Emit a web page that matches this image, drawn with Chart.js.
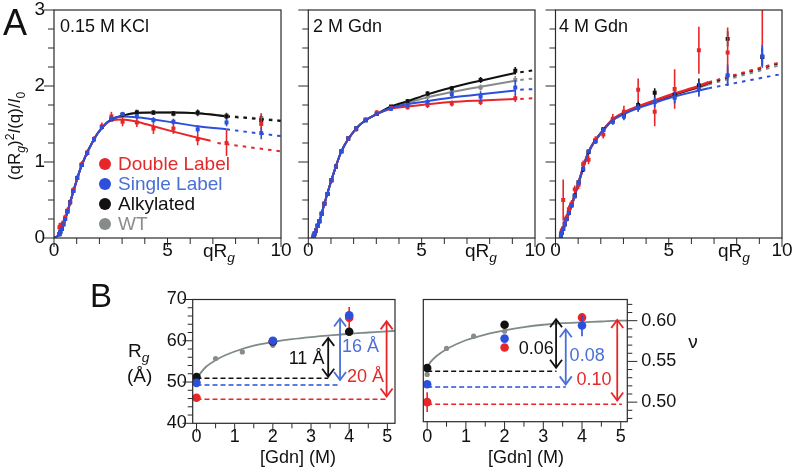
<!DOCTYPE html>
<html><head><meta charset="utf-8">
<script src="https://cdn.jsdelivr.net/npm/chart.js@4/dist/chart.umd.min.js"></script>
<style>
html,body{margin:0;padding:0;background:#fff;}
#wrap{position:relative;width:793px;height:471px;overflow:hidden;background:#fff;}
#wrap canvas{position:absolute;left:0;top:0;}
</style></head><body>
<div id="wrap">
<canvas id="cA1" width="793" height="471"></canvas>
<canvas id="cA2" width="793" height="471"></canvas>
<canvas id="cA3" width="793" height="471"></canvas>
<canvas id="cB1" width="793" height="471"></canvas>
<canvas id="cB2" width="793" height="471"></canvas>
</div>
<script>
// ---------- DATA ----------
const qPoints = [0.24,0.28,0.34,0.41,0.49,0.59,0.71,0.85,1.02,1.22,1.46,1.76,2.11,2.53,3.02,3.65,4.38,5.26,6.33,7.6,9.13];
const topXTicks = [0,5,10];
const topYTicks = [0,1,2,3];

// Panel: 0.15 M KCl
const kclBlue  = [0.05,0.08,0.12,0.18,0.25,0.35,0.47,0.62,0.79,0.96,1.12,1.30,1.46,1.57,1.63,1.60,1.55,1.53,1.43,1.52,1.38];
const kclBlack = [0.05,0.08,0.12,0.18,0.25,0.35,0.47,0.62,0.79,0.96,1.12,1.30,1.46,1.56,1.62,1.65,1.65,1.64,1.65,1.60,1.55];
const kclGray  = [0.05,0.08,0.12,0.18,0.25,0.35,0.47,0.62,0.79,0.96,1.12,1.30,1.46,1.56,1.62,1.66,1.65,1.63,1.64,1.61,1.58];
const kclRed   = [0.14,0.15,0.16,0.20,0.27,0.36,0.47,0.63,0.79,0.97,1.12,1.30,1.47,1.60,1.53,1.52,1.44,1.44,1.30,1.25,1.50];
const kclRedErr   = [0.06,0.05,0.05,0.04,0.04,0.04,0.04,0.04,0.04,0.04,0.04,0.04,0.05,0.06,0.06,0.06,0.07,0.07,0.08,0.17,0.14];
const kclBlueErr  = [0.03,0.03,0.02,0.02,0.02,0.02,0.02,0.02,0.02,0.02,0.02,0.02,0.02,0.03,0.03,0.03,0.04,0.04,0.05,0.05,0.08];
const kclBlackErr = [0.02,0.02,0.02,0.02,0.02,0.02,0.02,0.02,0.02,0.02,0.02,0.02,0.02,0.02,0.03,0.03,0.03,0.03,0.04,0.04,0.06];
const kclFitQ     = [0,0.24,0.41,0.59,0.85,1.22,1.76,2.11,2.53,3.02,3.65,4.38,5.26,6.33,7.6];
const kclFitBlue  = [0,0.05,0.17,0.34,0.61,0.96,1.30,1.45,1.56,1.60,1.59,1.56,1.52,1.47,1.43];
const kclFitBlack = [0,0.05,0.17,0.34,0.61,0.96,1.30,1.45,1.56,1.61,1.645,1.65,1.65,1.64,1.60];
const kclFitGray  = [0,0.05,0.17,0.34,0.61,0.96,1.30,1.45,1.56,1.61,1.645,1.65,1.65,1.64,1.605];
const kclRedFitQ  = [0,0.24,0.41,0.59,0.85,1.22,1.76,2.11,2.53,3.02,3.65,4.38,5.26,6.33,6.9];
const kclFitRed   = [0,0.05,0.17,0.34,0.61,0.96,1.30,1.45,1.55,1.56,1.53,1.47,1.40,1.32,1.28];
const kclDotQ     = [7.6,10];
const kclDotBlack = [1.60,1.54];
const kclDotGray  = [1.61,1.55];
const kclDotBlue  = [1.43,1.34];
const kclRedDotQ  = [7.2,10];
const kclDotRed   = [1.25,1.14];

// Panel: 2 M Gdn
const gdn2Blue  = [0.03,0.06,0.10,0.16,0.22,0.32,0.45,0.58,0.76,0.94,1.14,1.31,1.44,1.55,1.63,1.70,1.75,1.79,1.89,1.86,1.98];
const gdn2Black = [0.03,0.06,0.10,0.16,0.22,0.32,0.45,0.58,0.76,0.94,1.14,1.31,1.44,1.55,1.63,1.73,1.80,1.90,1.97,2.08,2.20];
const gdn2Gray  = [0.03,0.06,0.10,0.16,0.22,0.32,0.45,0.58,0.76,0.94,1.14,1.31,1.44,1.55,1.63,1.72,1.78,1.86,1.93,1.98,2.08];
const gdn2Red   = [0.01,0.05,0.10,0.16,0.22,0.32,0.45,0.58,0.76,0.94,1.14,1.31,1.43,1.56,1.65,1.71,1.72,1.75,1.77,1.79,1.84];
const gdn2RedErr   = [0.03,0.03,0.03,0.03,0.03,0.03,0.03,0.03,0.03,0.03,0.03,0.03,0.03,0.03,0.03,0.03,0.03,0.04,0.04,0.04,0.05];
const gdn2BlueErr  = [0.02,0.02,0.02,0.02,0.02,0.02,0.02,0.02,0.02,0.02,0.02,0.02,0.02,0.02,0.02,0.03,0.03,0.04,0.05,0.07,0.10];
const gdn2BlackErr = [0.02,0.02,0.02,0.02,0.02,0.02,0.02,0.02,0.02,0.02,0.02,0.02,0.02,0.02,0.02,0.02,0.03,0.03,0.03,0.04,0.05];
const gdn2FitQ     = [0.15,0.34,0.49,0.71,1.02,1.46,2.11,2.53,3.02,3.65,4.38,5.26,6.33,7.6,9.13];
const gdn2FitBlue  = [0,0.10,0.22,0.45,0.76,1.14,1.44,1.55,1.63,1.71,1.76,1.80,1.85,1.89,1.94];
const gdn2FitBlack = [0,0.10,0.22,0.45,0.76,1.14,1.44,1.55,1.63,1.73,1.80,1.89,1.98,2.07,2.17];
const gdn2FitGray  = [0,0.10,0.22,0.45,0.76,1.14,1.44,1.55,1.63,1.72,1.78,1.85,1.92,1.99,2.07];
const gdn2FitRed   = [0,0.10,0.22,0.45,0.76,1.14,1.44,1.55,1.63,1.70,1.73,1.76,1.79,1.81,1.83];
const gdn2DotQ     = [9.35,10];
const gdn2DotBlack = [2.18,2.21];
const gdn2DotGray  = [2.08,2.10];
const gdn2DotBlue  = [1.95,1.96];
const gdn2DotRed   = [1.83,1.84];

// Panel: 4 M Gdn
const gdn4Blue  = [0.03,0.07,0.12,0.18,0.25,0.33,0.43,0.55,0.73,0.91,1.14,1.27,1.42,1.53,1.60,1.71,1.79,1.85,1.96,2.14,2.39];
const gdn4Black = [0.03,0.07,0.12,0.18,0.25,0.33,0.43,0.56,0.73,0.90,1.13,1.28,1.43,1.55,1.62,1.75,1.91,1.89,2.01,2.62,2.38];
const gdn4Gray  = [0.03,0.07,0.12,0.18,0.25,0.33,0.43,0.55,0.73,0.91,1.14,1.27,1.42,1.53,1.60,1.71,1.79,1.85,1.96,2.14,2.39];
const gdn4Red   = [0.06,0.10,0.50,0.20,0.27,0.38,0.45,0.64,0.70,0.97,1.03,1.29,1.36,1.57,1.66,1.95,1.66,1.96,2.47,2.44,3.05];
const gdn4RedErr   = [0.05,0.05,0.27,0.06,0.05,0.05,0.05,0.05,0.06,0.05,0.06,0.05,0.05,0.06,0.08,0.15,0.19,0.26,0.31,0.33,0.55];
const gdn4BlueErr  = [0.03,0.03,0.03,0.03,0.03,0.03,0.03,0.03,0.03,0.03,0.03,0.03,0.04,0.04,0.05,0.05,0.07,0.08,0.10,0.14,0.15];
const gdn4BlackErr = [0.03,0.03,0.03,0.03,0.03,0.03,0.03,0.03,0.03,0.03,0.03,0.03,0.03,0.04,0.04,0.05,0.06,0.07,0.09,0.10,0.12];
const gdn4FitQ     = [0.2,0.34,0.49,0.71,1.02,1.46,2.11,2.53,3.02,3.65,4.38,5.26,6.33,6.76];
const gdn4FitBlue  = [0,0.12,0.25,0.43,0.73,1.13,1.42,1.55,1.63,1.71,1.78,1.86,1.94,1.97];
const gdn4FitRed   = [0,0.12,0.25,0.43,0.73,1.13,1.42,1.56,1.65,1.73,1.81,1.90,2.00,2.05];
const gdn4FitBlack = [0,0.12,0.25,0.43,0.73,1.13,1.42,1.56,1.64,1.73,1.80,1.89,1.99,2.04];
const gdn4FitGray  = [0,0.12,0.25,0.43,0.73,1.13,1.42,1.55,1.64,1.72,1.79,1.88,1.98,2.02];
const gdn4DotQ     = [6.76,10];
const gdn4DotRed   = [2.05,2.32];
const gdn4DotBlack = [2.04,2.31];
const gdn4DotGray  = [2.02,2.28];
const gdn4DotBlue  = [1.97,2.16];

// Panel B: Rg and nu vs [Gdn]
const gdnX = [0,2,4];
const bXTicks = [0,1,2,3,4,5];
const rgYTicks = [40,50,60,70];
const nuYTicks = [0.50,0.55,0.60];
const rgRed = [46.2,59.7,65.6];   const rgRedErr = [0.5,0.5,2.6];
const rgBlue = [49.8,60.0,66.2];  const rgBlueErr = [0.4,0.5,0.9];
const rgBlack = [51.2,59.9,62.2];
const rgGrayX = [0,0.5,1.2,2];    const rgGray = [50.5,55.7,57.3,58.9];
const rgFitX = [0,0.1,0.25,0.5,0.75,1,1.5,2,2.5,3,3.5,4,4.5,5,5.2];
const rgFit  = [50.6,52.1,53.7,55.3,56.5,57.4,58.8,59.7,60.4,60.9,61.3,61.7,62.0,62.3,62.4];
const rgBaseEnd = [4.97,3.76,3.45];      // red, blue, black
const rgBase    = [45.8,49.3,50.9];
const rgArrowX  = [4.98,3.76,3.45];
const rgArrowLo = [46.5,50.5,51.3];
const rgArrowHi = [64.7,65.4,60.7];
const rgDeltaLabels = ['20 Å','16 Å','11 Å'];

const nuRed = [0.500,0.567,0.604];   const nuRedErr = [0.012,0.002,0.003];
const nuBlue = [0.522,0.578,0.594];  const nuBlueErr = [0.002,0.002,0.013];
const nuBlack = [0.542,0.595,null];
const nuGrayX = [0,0.5,1.2,2];       const nuGray = [0.534,0.566,0.581,0.587];
const nuFitX = [0,0.1,0.25,0.5,0.75,1,1.5,2,2.5,3,3.5,4,4.5,5,5.17];
const nuFit  = [0.543,0.550,0.557,0.565,0.571,0.576,0.583,0.588,0.592,0.595,0.597,0.598,0.599,0.600,0.600];
const nuBaseEnd = [5.03,3.58,3.34];
const nuBase    = [0.4975,0.5185,0.538];
const nuArrowX  = [4.91,3.58,3.33];
const nuArrowLo = [0.502,0.5218,0.5423];
const nuArrowHi = [0.6009,0.5894,0.6017];
const nuDeltaLabels = ['0.10','0.08','0.06'];

const legendLabels = ['Double Label','Single Label','Alkylated','WT'];

// ---------- STYLE ----------
const FONT = '"Liberation Sans", Arial, Helvetica, sans-serif';
const RED='#e8262a', BLUE='#2c4fdc', BLACK='#111111', GRAY='#878b8b';
const BLUE_T='#4a6fd8', RED_T='#e32a2a', GRAY_T='#8a8e8e', FITGRAY='#7f8b87';
const W=793, H=471, XH=40;

function pts(xs, ys){ return xs.map((x,i)=>({x:x, y:ys[i]})); }
function ptsDs(xs, ys, errs, color, r, style, order, errColor){
  return {data:pts(xs,ys), errs:errs||null, errColor:errColor||color, backgroundColor:color, borderColor:color,
    pointRadius:r, pointStyle:style, pointBorderWidth:0, showLine:false, order:order};
}
function lineDs(xs, ys, color, width, dash, order, tension){
  return {data:pts(xs,ys), borderColor:color, backgroundColor:color, borderWidth:width, borderDash:dash||[],
    pointRadius:0, showLine:true, tension:(tension===undefined?0.4:tension), cubicInterpolationMode:'monotone', order:order, fill:false};
}

function drawRich(ctx, it, px, py){
  const size = it.size;
  const segs = it.parts.map(p=>{
    const s = (p.sub||p.sup) ? size*0.72 : size;
    const font = (p.it?'italic ':'') + s + 'px ' + FONT;
    ctx.font = font;
    return {p:p, font:font, w:ctx.measureText(p.t).width};
  });
  const total = segs.reduce((a,b)=>a+b.w,0);
  ctx.save();
  ctx.translate(px,py);
  if (it.rot) ctx.rotate(it.rot);
  let x0 = it.align==='center' ? -total/2 : (it.align==='right' ? -total : 0);
  ctx.textAlign='left';
  ctx.textBaseline = it.baseline || 'alphabetic';
  ctx.fillStyle = it.color || '#111';
  for (const g of segs){
    ctx.font = g.font;
    const dy = g.p.sub ? size*0.27 : (g.p.sup ? -size*0.38 : 0);
    ctx.fillText(g.p.t, x0, dy);
    x0 += g.w;
  }
  ctx.restore();
}

function tickList(c){
  const out=[]; const n=Math.round((c.to-c.from)/c.step);
  for(let i=0;i<=n;i++){ const v=c.from+i*c.step; const r=v/c.major; out.push({v:v, major:Math.abs(r-Math.round(r))<1e-6}); }
  return out;
}

const decoPlugin = {
  id:'deco',
  beforeDatasetDraw(chart, args){
    const ds = chart.data.datasets[args.index];
    if (!ds.errs) return;
    const ctx=chart.ctx, xs=chart.scales.x, ys=chart.scales.y, ca=chart.chartArea;
    ctx.save();
    ctx.beginPath(); ctx.rect(ca.left, ca.top, ca.right-ca.left, ca.bottom-ca.top); ctx.clip();
    ctx.strokeStyle = ds.errColor; ctx.lineWidth = 1.6;
    ds.data.forEach((p,i)=>{
      const e = ds.errs[i]; if (p.y==null || !e) return;
      const x = xs.getPixelForValue(p.x);
      ctx.beginPath(); ctx.moveTo(x, ys.getPixelForValue(p.y-e)); ctx.lineTo(x, ys.getPixelForValue(p.y+e)); ctx.stroke();
    });
    ctx.restore();
  },
  afterDraw(chart, args, o){
    const ctx=chart.ctx, ca=chart.chartArea, xs=chart.scales.x, ys=chart.scales.y;
    ctx.save();
    ctx.strokeStyle='#2a2a2a'; ctx.lineWidth=1.2;
    ctx.strokeRect(ca.left, ca.top, ca.right-ca.left, ca.bottom-ca.top);
    ctx.lineWidth=1; ctx.strokeStyle='#2a2a2a';
    if (o.tx){ for (const t of tickList(o.tx)){ const x=xs.getPixelForValue(t.v); const L=t.major?o.tx.majLen:o.tx.minLen;
      ctx.beginPath(); ctx.moveTo(x, ca.bottom); ctx.lineTo(x, ca.bottom+L); ctx.stroke(); } }
    if (o.ty){ for (const t of tickList(o.ty)){ const y=ys.getPixelForValue(t.v); const L=t.major?o.ty.majLen:o.ty.minLen;
      ctx.beginPath();
      if (o.ty.side==='right'){ ctx.moveTo(ca.right, y); ctx.lineTo(ca.right+L, y); }
      else { ctx.moveTo(ca.left, y); ctx.lineTo(ca.left-L, y); }
      ctx.stroke(); } }
    (o.arrows||[]).forEach(a=>{
      const x=xs.getPixelForValue(a.x), y1=ys.getPixelForValue(a.lo), y2=ys.getPixelForValue(a.hi);
      ctx.strokeStyle=a.color; ctx.lineWidth=1.8;
      ctx.beginPath(); ctx.moveTo(x,y1); ctx.lineTo(x,y2); ctx.stroke();
      const hw=6, hl=8;
      ctx.beginPath(); ctx.moveTo(x-hw, y2+hl); ctx.lineTo(x, y2); ctx.lineTo(x+hw, y2+hl); ctx.stroke();
      ctx.beginPath(); ctx.moveTo(x-hw, y1-hl); ctx.lineTo(x, y1); ctx.lineTo(x+hw, y1-hl); ctx.stroke();
    });
    (o.legend||[]).forEach(l=>{
      ctx.fillStyle=l.dot; ctx.beginPath(); ctx.arc(l.x, l.y, 6, 0, Math.PI*2); ctx.fill();
      ctx.fillStyle=l.color; ctx.font='19px '+FONT; ctx.textAlign='left'; ctx.textBaseline='middle';
      ctx.fillText(l.text, l.x+13, l.y+1);
    });
    (o.texts||[]).forEach(t=>{
      const px = t.data ? xs.getPixelForValue(t.x) : t.x;
      const py = t.data ? ys.getPixelForValue(t.y) : t.y;
      drawRich(ctx, t, px, py);
    });
    ctx.restore();
  }
};

function fixScale(size, horiz){
  return s=>{ if (horiz) s.height=size; else s.width=size; s.paddingTop=0; s.paddingBottom=0; s.paddingLeft=0; s.paddingRight=0; };
}

function makeChart(id, area, sc, datasets, deco){
  const right = sc.yPos==='right';
  const YW = right ? 60 : 40;
  const padding = {top:area.t, bottom:H-area.b-XH, left: right?area.l:area.l-YW, right: right?W-area.r-YW:W-area.r};
  return new Chart(document.getElementById(id), {
    type:'scatter',
    data:{datasets:datasets},
    plugins:[decoPlugin],
    options:{
      responsive:false, animation:false, events:[],
      layout:{padding:padding},
      plugins:{legend:{display:false}, tooltip:{enabled:false}, deco:deco},
      scales:{
        x:{type:'linear', min:sc.xmin, max:sc.xmax, afterFit:fixScale(XH,true),
           afterBuildTicks:s=>{ s.ticks = sc.xTicks.map(v=>({value:v})); },
           grid:{display:false, drawTicks:false}, border:{display:false},
           ticks:{display:true, autoSkip:false, maxRotation:0, padding:sc.xPad, color:'#111',
                  font:{family:FONT, size:sc.fs}, callback:v=>sc.xFmt(v)}},
        y:{type:'linear', position:sc.yPos||'left', min:sc.ymin, max:sc.ymax, afterFit:fixScale(YW,false),
           afterBuildTicks:s=>{ s.ticks = sc.yTicks.map(v=>({value:v})); },
           grid:{display:false, drawTicks:false}, border:{display:false},
           ticks:{display:sc.yShow, autoSkip:false, padding:sc.yPad, color:'#111',
                  font:{family:FONT, size:sc.fs}, callback:v=>sc.yFmt(v)}}
      }
    }
  });
}

function topDatasets(blue, red, black, gray, blueErr, redErr, blackErr, fitQ, fitBlue, redFitQ, fitRed, fitBlack, fitGray,
                     dotQ, dotBlue, redDotQ, dotRed, dotBlack, dotGray, redW){
  return [
    ptsDs(qPoints, blue, blueErr, BLUE, 2.8, 'rect', 1),
    ptsDs(qPoints, red, redErr, RED, 2.8, 'rect', 2),
    ptsDs(qPoints, black, blackErr, BLACK, 2.8, 'rect', 3),
    ptsDs(qPoints, gray, blackErr, GRAY, 2.8, 'rect', 4),
    lineDs(fitQ, fitBlue, BLUE, 2, null, 5),
    lineDs(redFitQ, fitRed, RED, redW||2, null, 6),
    lineDs(fitQ, fitBlack, BLACK, 2, null, 7),
    lineDs(fitQ, fitGray, GRAY, 2, null, 8),
    lineDs(dotQ, dotBlue, BLUE, 2, [3.5,5], 9, 0),
    lineDs(redDotQ, dotRed, RED, 2, [3.5,5], 10, 0),
    lineDs(dotQ, dotBlack, BLACK, 2, [3.5,5], 11, 0),
    lineDs(dotQ, dotGray, GRAY, 2, [3.5,5], 12, 0)
  ];
}

const topTickCfg = {tx:{from:0,to:10,step:1,major:5,minLen:6,majLen:9}, ty:{from:0,to:3,step:0.25,major:1,minLen:6,majLen:10}};
function topScales(showY){
  return {xmin:0,xmax:10,ymin:0,ymax:3,xTicks:topXTicks,yTicks:topYTicks,xPad:1,yPad:9,fs:19,yShow:showY,
          xFmt:v=>String(v), yFmt:v=>String(v)};
}
function qRg(x){ return {x:x, y:257, size:19, parts:[{t:'qR'},{t:'g',sub:true,it:true}]}; }

makeChart('cA1', {l:54,r:281,t:10,b:238}, topScales(true),
  topDatasets(kclBlue,kclRed,kclBlack,kclGray,kclBlueErr,kclRedErr,kclBlackErr,kclFitQ,kclFitBlue,kclRedFitQ,kclFitRed,kclFitBlack,kclFitGray,
              kclDotQ,kclDotBlue,kclRedDotQ,kclDotRed,kclDotBlack,kclDotGray),
  Object.assign({}, topTickCfg, {
    legend:[
      {x:105,y:164,dot:RED,color:RED_T,text:legendLabels[0]},
      {x:105,y:184,dot:BLUE,color:BLUE_T,text:legendLabels[1]},
      {x:105,y:204,dot:BLACK,color:BLACK,text:legendLabels[2]},
      {x:105,y:224,dot:GRAY,color:GRAY_T,text:legendLabels[3]}
    ],
    texts:[
      {x:3,y:35,size:36,parts:[{t:'A'}]},
      {x:60,y:32,size:18,parts:[{t:'0.15 M KCl'}]},
      qRg(203),
      {x:20,y:136,size:17,rot:-Math.PI/2,align:'center',
       parts:[{t:'(qR'},{t:'g',sub:true,it:true},{t:')'},{t:'2',sup:true},{t:'I',it:true},{t:'(q)/'},{t:'I',it:true},{t:'0',sub:true}]},
      {x:90,y:307,size:33,parts:[{t:'B'}]}
    ]
  }));

makeChart('cA2', {l:308.3,r:535,t:10,b:238}, topScales(false),
  topDatasets(gdn2Blue,gdn2Red,gdn2Black,gdn2Gray,gdn2BlueErr,gdn2RedErr,gdn2BlackErr,gdn2FitQ,gdn2FitBlue,gdn2FitQ,gdn2FitRed,gdn2FitBlack,gdn2FitGray,
              gdn2DotQ,gdn2DotBlue,gdn2DotQ,gdn2DotRed,gdn2DotBlack,gdn2DotGray),
  Object.assign({}, topTickCfg, {texts:[{x:313,y:32,size:18,parts:[{t:'2 M Gdn'}]}, qRg(465)]}));

makeChart('cA3', {l:555.5,r:782,t:10,b:238}, topScales(false),
  topDatasets(gdn4Blue,gdn4Red,gdn4Black,gdn4Gray,gdn4BlueErr,gdn4RedErr,gdn4BlackErr,gdn4FitQ,gdn4FitBlue,gdn4FitQ,gdn4FitRed,gdn4FitBlack,gdn4FitGray,
              gdn4DotQ,gdn4DotBlue,gdn4DotQ,gdn4DotRed,gdn4DotBlack,gdn4DotGray,2.6),
  Object.assign({}, topTickCfg, {texts:[{x:559,y:32,size:18,parts:[{t:'4 M Gdn'}]}, qRg(718)]}));

function bDatasets(red, redErr, blue, blueErr, black, grayX, gray, fitX, fit, baseEnd, base){
  const ds = [
    ptsDs(gdnX, blue, blueErr, BLUE, 4.3, 'circle', 1),
    ptsDs(gdnX, black, null, BLACK, 4.3, 'circle', 2),
    ptsDs(gdnX, red, redErr, RED, 4.3, 'circle', 3),
    ptsDs(grayX, gray, null, GRAY, 2.6, 'circle', 4),
    lineDs(fitX, fit, FITGRAY, 1.8, null, 5)
  ];
  const cols=[RED,BLUE,BLACK];
  for (let i=0;i<3;i++) ds.push(lineDs([0, baseEnd[i]], [base[i], base[i]], cols[i], 1.5, [5,3], 6+i, 0));
  return ds;
}
const bTickX = {from:0,to:5,step:0.5,major:1,minLen:5,majLen:9};
makeChart('cB1', {l:192.7,r:395,t:299.5,b:423.3},
  {xmin:-0.1,xmax:5.2,ymin:40,ymax:70,xTicks:bXTicks,yTicks:rgYTicks,xPad:3,yPad:6,fs:18,yShow:true,xFmt:v=>String(v),yFmt:v=>String(v)},
  bDatasets(rgRed,rgRedErr,rgBlue,rgBlueErr,rgBlack,rgGrayX,rgGray,rgFitX,rgFit,rgBaseEnd,rgBase),
  {tx:bTickX, ty:{from:40,to:70,step:2,major:10,minLen:5,majLen:10},
   arrows:[0,1,2].map(i=>({x:rgArrowX[i], lo:rgArrowLo[i], hi:rgArrowHi[i], color:[RED,BLUE_T,BLACK][i]})),
   texts:[
     {data:true, x:3.94, y:51.3, size:18, baseline:'middle', color:RED_T, parts:[{t:rgDeltaLabels[0]}]},
     {data:true, x:3.81, y:58.5, size:18, baseline:'middle', color:BLUE_T, parts:[{t:rgDeltaLabels[1]}]},
     {data:true, x:3.35, y:55.5, size:18, baseline:'middle', align:'right', color:BLACK, parts:[{t:rgDeltaLabels[2]}]},
     {x:128, y:357, size:19, parts:[{t:'R'},{t:'g',sub:true,it:true}]},
     {x:127, y:382, size:19, parts:[{t:'(Å)'}]},
     {x:298, y:458, size:18, align:'center', baseline:'middle', parts:[{t:'[Gdn] (M)'}]}
   ]});

makeChart('cB2', {l:423.3,r:627.3,t:299.5,b:421.7},
  {xmin:-0.1,xmax:5.17,ymin:0.476,ymax:0.626,xTicks:bXTicks,yTicks:nuYTicks,xPad:4.5,yPad:14,fs:18,yShow:true,yPos:'right',
   xFmt:v=>String(v), yFmt:v=>v.toFixed(2)},
  bDatasets(nuRed,nuRedErr,nuBlue,nuBlueErr,nuBlack,nuGrayX,nuGray,nuFitX,nuFit,nuBaseEnd,nuBase),
  {tx:bTickX, ty:{from:0.48,to:0.62,step:0.01,major:0.05,minLen:5,majLen:10,side:'right'},
   arrows:[0,1,2].map(i=>({x:nuArrowX[i], lo:nuArrowLo[i], hi:nuArrowHi[i], color:[RED,BLUE_T,BLACK][i]})),
   texts:[
     {data:true, x:3.86, y:0.5267, size:18, baseline:'middle', color:RED_T, parts:[{t:nuDeltaLabels[0]}]},
     {data:true, x:3.68, y:0.5561, size:18, baseline:'middle', color:BLUE_T, parts:[{t:nuDeltaLabels[1]}]},
     {data:true, x:3.27, y:0.5656, size:18, baseline:'middle', align:'right', color:BLACK, parts:[{t:nuDeltaLabels[2]}]},
     {x:693, y:343, size:19, align:'center', baseline:'middle', parts:[{t:'ν'}]},
     {x:526, y:458, size:18, align:'center', baseline:'middle', parts:[{t:'[Gdn] (M)'}]}
   ]});
</script>
</body></html>
